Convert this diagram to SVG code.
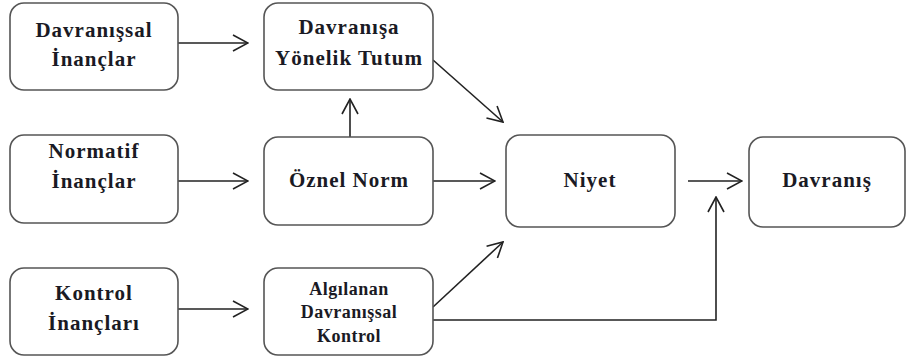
<svg xmlns="http://www.w3.org/2000/svg" width="913" height="360" viewBox="0 0 913 360">
<style>
.box{fill:#fff;stroke:#555;stroke-width:1.6}
.t{font-family:"Liberation Serif","Times New Roman",serif;font-weight:bold;font-size:21px;letter-spacing:1px;fill:#1a1a24;text-anchor:middle}
.s{font-size:18px;letter-spacing:0.5px}
.c{fill:none;stroke:#222;stroke-width:1.6}
</style>
<defs>
<marker id="a" viewBox="0 0 17 18" refX="16" refY="9" markerWidth="17" markerHeight="18" markerUnits="userSpaceOnUse" orient="auto">
<path d="M1,1 L16,9 L1,17" fill="none" stroke="#222" stroke-width="1.6"/>
</marker>
</defs>
<rect width="913" height="360" fill="#fff"/>
<g id="connectors">
<line class="c" x1="178" y1="43" x2="248" y2="43" marker-end="url(#a)"/>
<line class="c" x1="178" y1="181" x2="248" y2="181" marker-end="url(#a)"/>
<line class="c" x1="178" y1="309" x2="248" y2="309" marker-end="url(#a)"/>
<line class="c" x1="350" y1="137" x2="350" y2="99" marker-end="url(#a)"/>
<line class="c" x1="433" y1="181" x2="495" y2="181" marker-end="url(#a)"/>
<line class="c" x1="433" y1="60" x2="503" y2="122" marker-end="url(#a)"/>
<line class="c" x1="433" y1="307" x2="503" y2="242" marker-end="url(#a)"/>
<line class="c" x1="688" y1="181" x2="742" y2="181" marker-end="url(#a)"/>
<polyline class="c" points="433,320 716,320 716,197" marker-end="url(#a)"/>
</g>
<g id="davranissal-inanclar">
<rect class="box" x="10" y="3" width="168" height="87" rx="14"/>
<text class="t" x="94" y="37">Davranışsal</text>
<text class="t" x="94" y="66">İnançlar</text>
</g>
<g id="tutum">
<rect class="box" x="264" y="3" width="169" height="87" rx="14"/>
<text class="t" x="349" y="34">Davranışa</text>
<text class="t" x="349" y="65">Yönelik Tutum</text>
</g>
<g id="normatif-inanclar">
<rect class="box" x="10" y="135" width="168" height="88" rx="14"/>
<text class="t" x="94" y="158">Normatif</text>
<text class="t" x="94" y="188">İnançlar</text>
</g>
<g id="oznel-norm">
<rect class="box" x="264" y="137" width="169" height="88" rx="14"/>
<text class="t" x="349" y="187">Öznel Norm</text>
</g>
<g id="kontrol-inanclari">
<rect class="box" x="10" y="268" width="168" height="87" rx="14"/>
<text class="t" x="94" y="300">Kontrol</text>
<text class="t" x="94" y="330">İnançları</text>
</g>
<g id="algilanan">
<rect class="box" x="264" y="268" width="169" height="87" rx="14"/>
<text class="t s" x="349" y="295">Algılanan</text>
<text class="t s" x="349" y="318">Davranışsal</text>
<text class="t s" x="349" y="342">Kontrol</text>
</g>
<g id="niyet">
<rect class="box" x="506" y="135" width="169" height="92" rx="14"/>
<text class="t" x="590" y="187">Niyet</text>
</g>
<g id="davranis">
<rect class="box" x="749" y="137" width="156" height="90" rx="14"/>
<text class="t" x="827" y="187">Davranış</text>
</g>
</svg>
